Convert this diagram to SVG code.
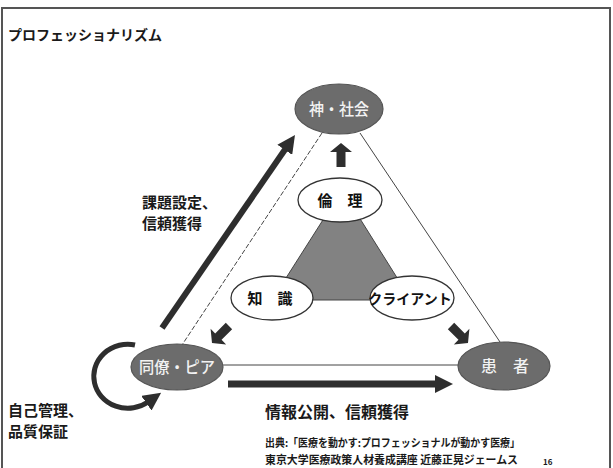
<svg xmlns="http://www.w3.org/2000/svg" xmlns:xlink="http://www.w3.org/1999/xlink" width="613" height="468" viewBox="0 0 613 468">
  <style>
    text { font-family: "Noto Sans CJK JP", "Noto Sans", sans-serif; }
    .dark { fill: #6c6c6c; stroke: #555; stroke-width: 1.2; }
    .light { fill: #ffffff; stroke: #333; stroke-width: 1.3; }
    .dtxt { fill: #f2f2f2; font-size: 16px; font-weight: 500; text-anchor: middle; }
    .ltxt { fill: #111; font-size: 15px; font-weight: 700; text-anchor: middle; }
    .lbl { fill: #1a1a1a; font-size: 15px; font-weight: 700; }
    .src { fill: #1a1a1a; font-size: 11px; font-weight: 700; }
    .thin { stroke: #444; stroke-width: 1; fill: none; }
    .thick { stroke: #2e2e2e; fill: none; }
    .block { fill: #2e2e2e; }
  </style>
  <defs>
    <marker id="head" viewBox="0 0 18 18" refX="2" refY="9" markerWidth="18" markerHeight="18" markerUnits="userSpaceOnUse" orient="auto">
      <path d="M0,0 L18,9 L0,18 Z" fill="#2e2e2e"/>
    </marker>
    <path id="blockArrow" d="M0,0 L11,9 L4.5,9 L4.5,24 L-4.5,24 L-4.5,9 L-11,9 Z"/>
  </defs>

  <rect x="2" y="8" width="608" height="470" fill="#fff" stroke="#555" stroke-width="2"/>
  <text class="lbl" x="8" y="40" style="font-size:14px">プロフェッショナリズム</text>

  <g id="connectors">
    <line class="thin" x1="322" y1="133" x2="182" y2="345" stroke-dasharray="5 2"/>
    <line class="thin" x1="360" y1="133" x2="500" y2="342"/>
    <line class="thin" x1="223" y1="365" x2="459" y2="365"/>
    <polygon points="342,190 272,300 411,300" fill="#828282" stroke="#444" stroke-width="1"/>
    <line class="thick" stroke-width="6" x1="162" y1="328" x2="285.9" y2="148.2" marker-end="url(#head)"/>
    <line class="thick" stroke-width="7" x1="228" y1="384" x2="437" y2="384" marker-end="url(#head)"/>
    <path class="thick" stroke-width="5" d="M135,345 A34 32 0 1 0 148,402" marker-end="url(#head)"/>
    <use xlink:href="#blockArrow" class="block" transform="translate(341,143)"/>
    <use xlink:href="#blockArrow" class="block" transform="translate(212,343) rotate(225)"/>
    <use xlink:href="#blockArrow" class="block" transform="translate(468,343) rotate(135)"/>
  </g>

  <g id="node-kami">
    <ellipse class="dark" cx="339" cy="109" rx="44" ry="25"/>
    <text class="dtxt" x="339" y="115" textLength="60" lengthAdjust="spacingAndGlyphs">神・社会</text>
  </g>
  <g id="node-douryou">
    <ellipse class="dark" cx="177" cy="367" rx="46" ry="23"/>
    <text class="dtxt" x="177" y="373" textLength="76" lengthAdjust="spacingAndGlyphs">同僚・ピア</text>
  </g>
  <g id="node-kanja">
    <ellipse class="dark" cx="504" cy="366" rx="46" ry="24"/>
    <text class="dtxt" x="505" y="372">患　者</text>
  </g>
  <g id="node-rinri">
    <ellipse class="light" cx="340" cy="200" rx="42" ry="22"/>
    <text class="ltxt" x="340" y="206">倫　理</text>
  </g>
  <g id="node-chishiki">
    <ellipse class="light" cx="272" cy="298" rx="41" ry="22"/>
    <text class="ltxt" x="270" y="304">知　識</text>
  </g>
  <g id="node-client">
    <ellipse class="light" cx="412" cy="298" rx="42" ry="22"/>
    <text class="ltxt" x="410" y="304" style="font-size:14px">クライアント</text>
  </g>

  <g id="labels">
    <text class="lbl" x="142" y="208">課題設定、</text>
    <text class="lbl" x="142" y="229">信頼獲得</text>
    <text class="lbl" x="265" y="418" style="font-size:16px">情報公開、信頼獲得</text>
    <text class="lbl" x="8" y="416">自己管理、</text>
    <text class="lbl" x="8" y="437">品質保証</text>
    <text class="src" x="265" y="447" textLength="255" lengthAdjust="spacingAndGlyphs">出典:「医療を動かす:プロフェッショナルが動かす医療」</text>
    <text class="src" x="265" y="464" textLength="253" lengthAdjust="spacingAndGlyphs">東京大学医療政策人材養成講座 近藤正晃ジェームス</text>
    <text class="src" x="543" y="465" style="font-size:8px">16</text>
  </g>
</svg>
